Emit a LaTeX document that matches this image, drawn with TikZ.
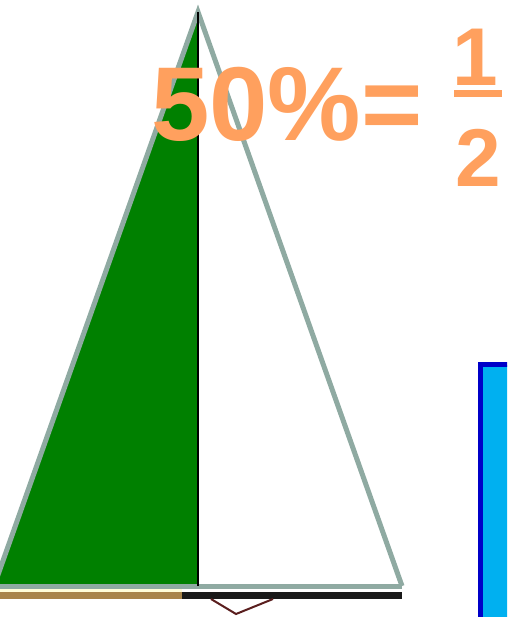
\documentclass[tikz,border=0pt]{standalone}
\usepackage{fontspec}
\setmainfont{Liberation Sans}
\definecolor{outl}{HTML}{8FAAA2}
\definecolor{leaf}{HTML}{008000}
\definecolor{orng}{HTML}{FFA05E}
\definecolor{bfill}{HTML}{00B0F0}
\definecolor{bline}{HTML}{0000C8}
\definecolor{tan}{HTML}{A8844A}
\definecolor{vred}{HTML}{5A1E1E}
\tikzset{
  pct/.style={font=\bfseries\fontsize{105}{105}\selectfont, text=orng, inner sep=0pt},
  fracdigit/.style={font=\bfseries\fontsize{82}{82}\selectfont, text=orng, inner sep=0pt},
}
\begin{document}
\begin{tikzpicture}[x=1pt,y=-1pt]
\useasboundingbox (0,0) rectangle (507,617);
\clip (0,0) rectangle (507,617);
% strip under base
\fill[tan] (0,591) rectangle (182,599);
\fill[black!90] (182,592) rectangle (402,599);
\fill[yellow!15] (0,589) rectangle (182,592);
% red V
\draw[vred, line width=2pt] (211,599) -- (236,614) -- (273,599);
% triangle halves
\coordinate (apex) at (198,12);
\coordinate (bl) at (-6,586);
\coordinate (br) at (402,586);
\coordinate (bm) at (198,586);
\fill[leaf] (apex) -- (bl) -- (bm) -- cycle;
\fill[white] (apex) -- (bm) -- (br) -- cycle;
\draw[outl, line width=5pt, line join=miter] (bl) -- (apex) -- (br);
\draw[outl, line width=5pt] (bl) -- (br);
\draw[black, line width=1.6pt] (apex) -- (bm);
% blue box
\draw[bline, fill=bfill, line width=5pt] (480.5,364.5) rectangle (530,640);
% text
\node[pct, anchor=base west] (pcttext) at (151,141) {50\%=};
\node[fracdigit, anchor=base] (one) at (475,86) {1};
\node[fracdigit, anchor=base] (two) at (478,187) {2};
\fill[orng] (454,90) rectangle (502,97);
\end{tikzpicture}
\end{document}
